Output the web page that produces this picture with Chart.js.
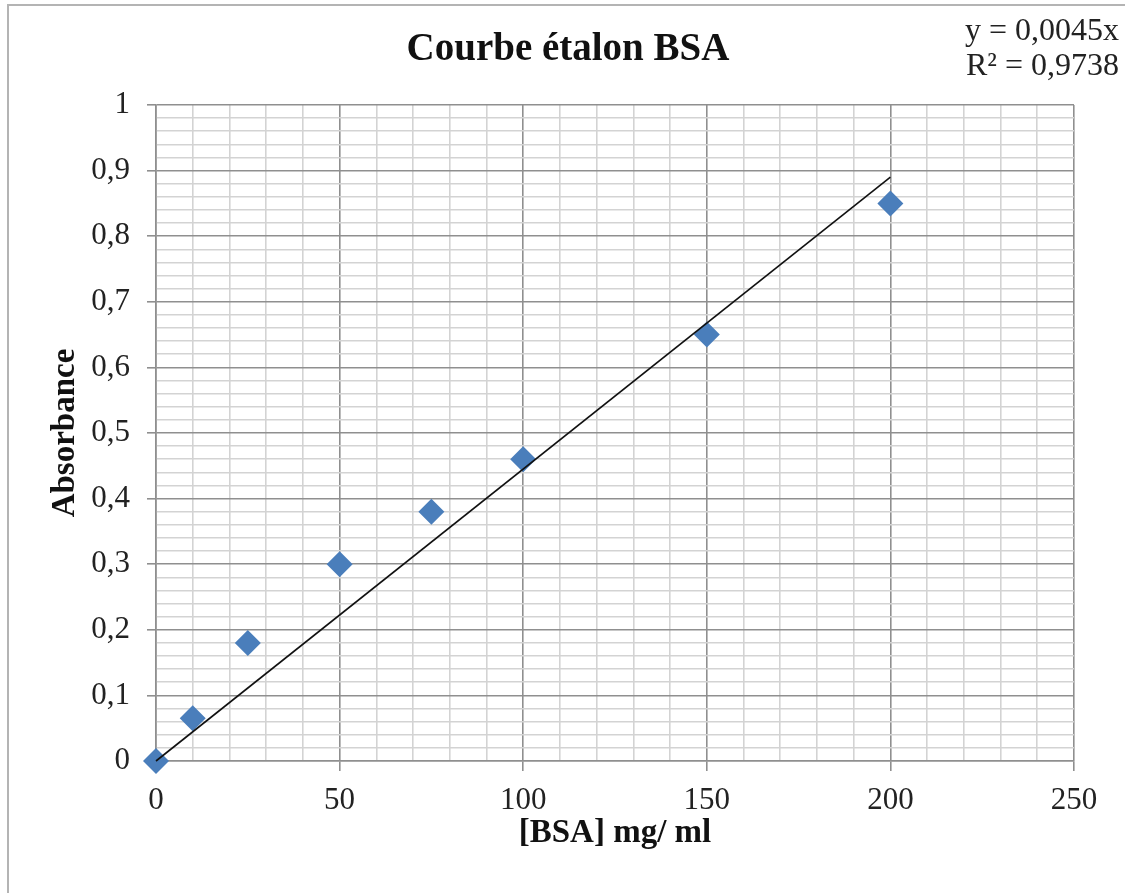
<!DOCTYPE html>
<html>
<head>
<meta charset="utf-8">
<script src="https://cdn.jsdelivr.net/npm/chart.js@4"></script>
<style>
html,body{margin:0;padding:0;background:#fff;}
#wrap{position:relative;width:1125px;height:893px;}
</style>
</head>
<body>
<div id="wrap"><canvas id="c" width="1125" height="893"></canvas></div>
<script>
const chartTitle = 'Courbe étalon BSA';
const xTitle = '[BSA] mg/ ml';
const yTitle = 'Absorbance';
const equationLines = ['y = 0,0045x', 'R² = 0,9738'];
const concentrations = [0, 10, 25, 50, 75, 100, 150, 200];
const absorbances = [0, 0.065, 0.18, 0.30, 0.38, 0.46, 0.65, 0.85];
const trendX = [0, 200];
const trendY = [0, 0.89];
const xTickLabels = ['0', '50', '100', '150', '200', '250'];
const yTickLabels = ['0', '0,1', '0,2', '0,3', '0,4', '0,5', '0,6', '0,7', '0,8', '0,9', '1'];

const SERIF = '"Liberation Serif", "Times New Roman", serif';
const MAJOR = '#8f8f8f', MINOR = '#d3d3d3';

const isMajorX = v => Math.abs(v / 50 - Math.round(v / 50)) < 1e-6;
const isMajorY = v => Math.abs(v * 10 - Math.round(v * 10)) < 1e-6;

const decor = {
  id: 'decor',
  beforeDraw(chart) {
    const ctx = chart.ctx;
    ctx.save();
    ctx.fillStyle = '#fff';
    ctx.fillRect(0, 0, chart.width, chart.height);
    ctx.strokeStyle = '#b4b4b4';
    ctx.lineWidth = 2;
    ctx.beginPath();
    ctx.moveTo(8, 893); ctx.lineTo(8, 5); ctx.lineTo(1125, 5);
    ctx.stroke();
    ctx.restore();
  },
  afterDraw(chart) {
    const ctx = chart.ctx;
    ctx.save();
    ctx.fillStyle = '#111';
    ctx.textBaseline = 'middle';
    ctx.textAlign = 'center';
    ctx.font = 'bold 39px ' + SERIF;
    ctx.fillText(chartTitle, 568, 50);
    ctx.textAlign = 'right';
    ctx.font = '32px ' + SERIF;
    ctx.fillStyle = '#222';
    ctx.fillText(equationLines[0], 1119, 32);
    ctx.fillText(equationLines[1], 1119, 67);
    ctx.restore();
  }
};

new Chart(document.getElementById('c'), {
  type: 'scatter',
  data: {
    datasets: [
      {
        label: 'Tendance',
        type: 'line',
        data: trendX.map((x, i) => ({x, y: trendY[i]})),
        borderColor: '#111',
        borderWidth: 1.6,
        pointRadius: 0,
        fill: false,
        clip: false,
        order: 1
      },
      {
        label: 'BSA',
        data: concentrations.map((x, i) => ({x, y: absorbances[i]})),
        pointStyle: 'rectRot',
        pointRadius: 13,
        backgroundColor: '#4a7ebb',
        borderColor: '#4a7ebb',
        borderWidth: 0,
        clip: false,
        order: 2
      }
    ]
  },
  plugins: [decor],
  options: {
    responsive: false,
    animation: false,
    devicePixelRatio: 1,
    layout: {padding: {left: 46, right: 51, top: 105, bottom: 40}},
    plugins: {legend: {display: false}, tooltip: {enabled: false}, title: {display: false}},
    scales: {
      x: {
        type: 'linear', min: 0, max: 250,
        ticks: {
          stepSize: 10, autoSkip: false, maxRotation: 0,
          color: '#222', padding: 11,
          font: {family: SERIF, size: 31},
          callback: v => isMajorX(v) ? xTickLabels[Math.round(v / 50)] : ''
        },
        grid: {
          color: c => isMajorX(c.tick.value) ? MAJOR : MINOR,
          lineWidth: 1.6,
          tickColor: c => isMajorX(c.tick.value) ? MAJOR : 'rgba(0,0,0,0)',
          tickLength: 10
        },
        border: {color: MAJOR, width: 1.6},
        title: {display: true, text: xTitle, color: '#111', font: {family: SERIF, size: 33, weight: 'bold'}, padding: {top: 0, bottom: 0}},
        afterFit: s => { s.height = 92; }
      },
      y: {
        type: 'linear', min: 0, max: 1,
        ticks: {
          stepSize: 0.02, autoSkip: false,
          color: '#222', padding: 17,
          font: {family: SERIF, size: 31},
          callback: v => isMajorY(v) ? yTickLabels[Math.round(v * 10)] : ''
        },
        grid: {
          color: c => isMajorY(c.tick.value) ? MAJOR : MINOR,
          lineWidth: 1.6,
          tickColor: c => isMajorY(c.tick.value) ? MAJOR : 'rgba(0,0,0,0)',
          tickLength: 9
        },
        border: {color: MAJOR, width: 1.6},
        title: {display: true, text: yTitle, color: '#111', font: {family: SERIF, size: 33, weight: 'bold'}, padding: {top: 0, bottom: 0}},
        afterFit: s => { s.width = 110; }
      }
    }
  }
});
</script>
</body>
</html>
